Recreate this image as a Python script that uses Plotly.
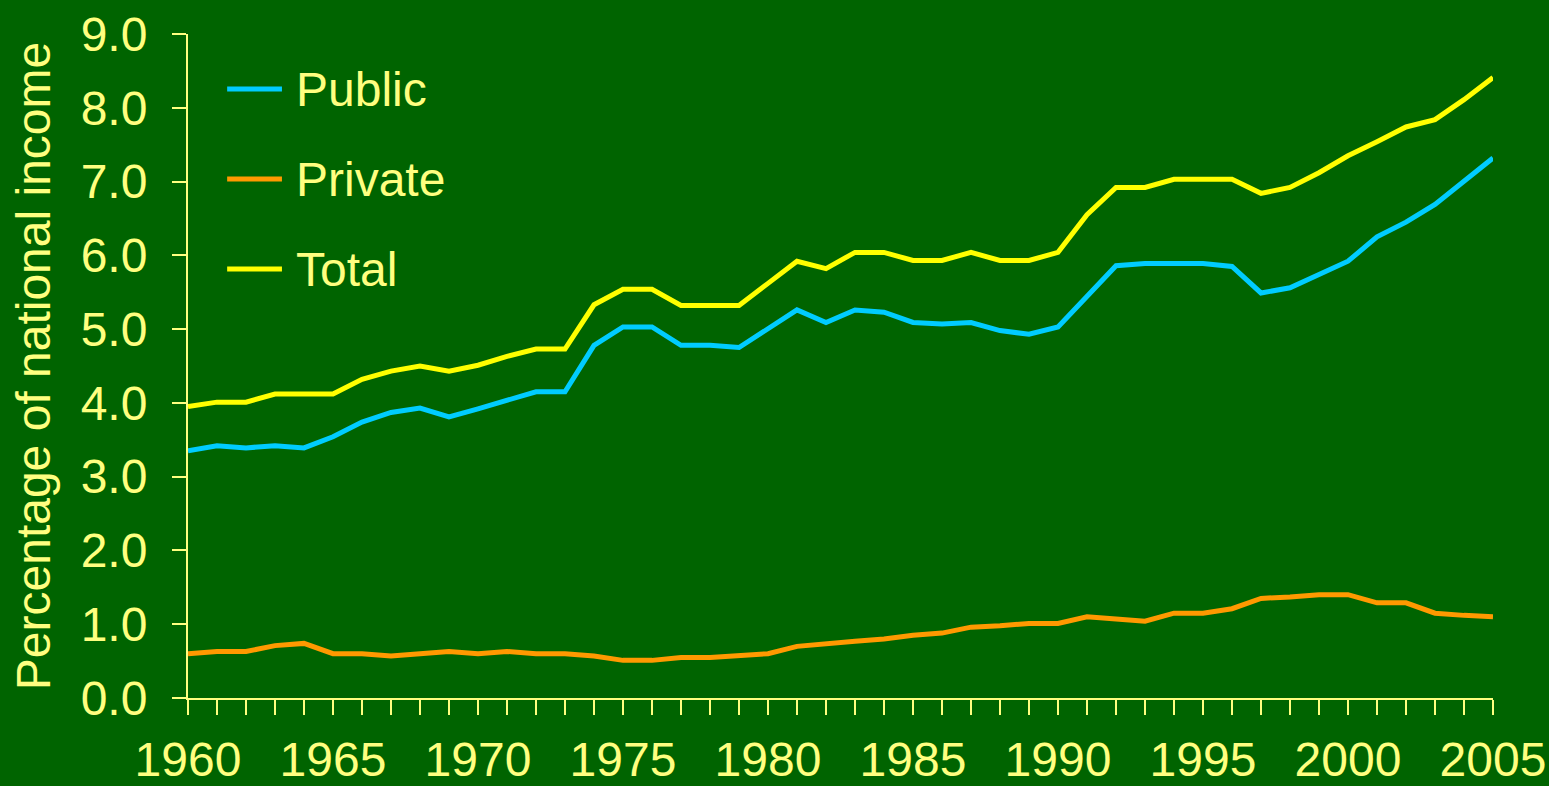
import plotly.graph_objects as go

# ── Data (percent of national income)
years = list(range(1960, 2006))

public = [3.35, 3.42, 3.39, 3.42, 3.39, 3.54, 3.74, 3.87, 3.93, 3.81,
          3.92, 4.03, 4.15, 4.15, 4.78, 5.03, 5.03, 4.78, 4.78, 4.75,
          5.01, 5.26, 5.09, 5.26, 5.23, 5.09, 5.07, 5.09, 4.98, 4.93,
          5.03, 5.45, 5.86, 5.89, 5.89, 5.89, 5.85, 5.49, 5.56, 5.74,
          5.92, 6.25, 6.45, 6.69, 7.00, 7.32]

private = [0.60, 0.63, 0.63, 0.71, 0.74, 0.60, 0.60, 0.57, 0.60, 0.63,
           0.60, 0.63, 0.60, 0.60, 0.57, 0.51, 0.51, 0.55, 0.55, 0.57,
           0.60, 0.70, 0.74, 0.77, 0.80, 0.85, 0.88, 0.96, 0.98, 1.01,
           1.01, 1.10, 1.07, 1.04, 1.15, 1.15, 1.21, 1.35, 1.37, 1.40,
           1.40, 1.29, 1.29, 1.15, 1.12, 1.10]

total = [3.95, 4.01, 4.01, 4.12, 4.12, 4.12, 4.32, 4.43, 4.50, 4.43,
         4.51, 4.63, 4.73, 4.73, 5.33, 5.54, 5.54, 5.32, 5.32, 5.32,
         5.62, 5.92, 5.82, 6.04, 6.04, 5.93, 5.93, 6.04, 5.93, 5.93,
         6.04, 6.55, 6.92, 6.92, 7.03, 7.03, 7.03, 6.84, 6.92, 7.12,
         7.35, 7.54, 7.74, 7.84, 8.11, 8.41]

y_ticks = [0, 1, 2, 3, 4, 5, 6, 7, 8, 9]
y_tick_labels = ["0.0", "1.0", "2.0", "3.0", "4.0", "5.0", "6.0", "7.0", "8.0", "9.0"]

# ── Style
BG = "#006400"
TEXT = "#FFFF80"
AXIS = "#FFFF80"
FONT = "Liberation Sans, Arial, sans-serif"

series = [
    ("Public", public, "#00CCFF"),
    ("Private", private, "#FF9900"),
    ("Total", total, "#FFFF00"),
]

fig = go.Figure()
for name, values, color in series:
    fig.add_trace(go.Scatter(
        x=years,
        y=values,
        mode="lines",
        name=name,
        line=dict(color=color, width=5),
        showlegend=False,
    ))

# ── Legend drawn by hand so the swatches are as long as in the original
for i, (name, _, color) in enumerate(series):
    ly = 0.917 - i * 0.1355
    fig.add_shape(
        type="line", xref="paper", yref="paper",
        x0=0.030, x1=0.072, y0=ly, y1=ly,
        line=dict(color=color, width=5),
    )
    fig.add_annotation(
        xref="paper", yref="paper", x=0.081, y=ly,
        xanchor="left", yanchor="middle", showarrow=False,
        text=name, font=dict(size=48, color=TEXT),
    )

fig.update_layout(
    width=1549,
    height=786,
    paper_bgcolor=BG,
    plot_bgcolor=BG,
    font=dict(family=FONT, size=48, color=TEXT),
    margin=dict(l=188, r=56, t=34, b=88, autoexpand=False),
    showlegend=False,
)

fig.update_xaxes(
    range=[1960, 2005],
    tickmode="linear",
    tick0=1960,
    dtick=5,
    ticks="outside",
    ticklen=15,
    tickwidth=2,
    tickcolor=AXIS,
    minor=dict(dtick=1, ticks="outside", ticklen=15, tickwidth=2, tickcolor=AXIS),
    showline=True,
    linecolor=AXIS,
    linewidth=2,
    showgrid=False,
    zeroline=False,
    automargin=False,
    tickfont=dict(size=48, color=TEXT),
    ticklabelstandoff=3,
)

fig.update_yaxes(
    range=[0, 9],
    tickmode="array",
    tickvals=y_ticks,
    ticktext=y_tick_labels,
    ticks="outside",
    ticklen=14,
    tickwidth=2,
    tickcolor=AXIS,
    showline=True,
    linecolor=AXIS,
    linewidth=2,
    showgrid=False,
    zeroline=False,
    automargin=False,
    tickfont=dict(size=48, color=TEXT),
    ticklabelstandoff=15,
    title=dict(text="Percentage of national income", font=dict(size=48, color=TEXT), standoff=15),
)

fig.write_html(
    "out.html",
    config={"displayModeBar": False},
    post_script="document.body.style.margin='0';",
)
